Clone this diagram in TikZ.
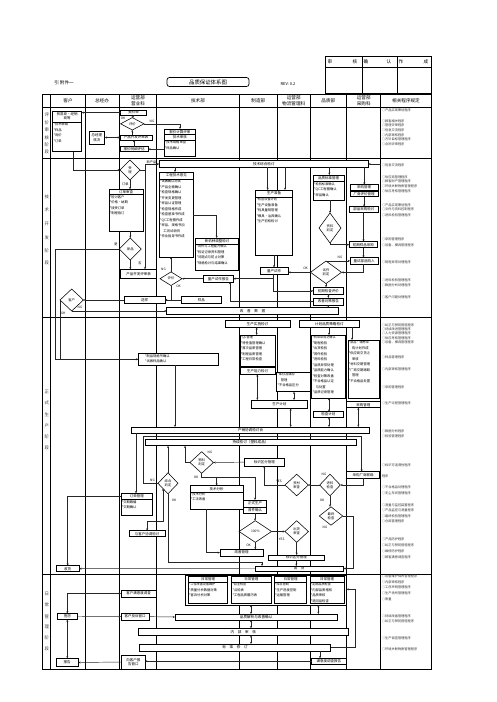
\documentclass[tikz,border=0pt]{standalone}
\usepackage{fontspec}
\setmainfont{Noto Sans CJK SC}
\usetikzlibrary{shapes.geometric,arrows.meta}
\tikzset{
  bx/.style={draw,fill=white,line width=0.55pt,inner sep=0pt,outer sep=0pt,align=center,font=\fontsize{3.5}{4.2}\selectfont},
  br/.style={draw,fill=white,line width=0.8pt,inner sep=0pt,outer sep=0pt,align=center,font=\fontsize{3.6}{4.2}\selectfont},
  dia/.style={diamond,draw,fill=white,line width=0.55pt,inner sep=0pt,outer sep=0pt,align=center,font=\fontsize{3.3}{3.9}\selectfont},
  tb/.style={inner sep=0pt,outer sep=0pt,align=left,anchor=north west,font=\fontsize{3.3}{5.5}\selectfont},
  lab/.style={inner sep=0pt,font=\fontsize{3.2}{3.8}\selectfont},
  ar/.style={line width=0.45pt,draw=black!85,-{Stealth[length=2.3pt,width=2pt]}},
  dar/.style={line width=0.45pt,draw=black!85,{Stealth[length=2.3pt,width=2pt]}-{Stealth[length=2.3pt,width=2pt]}},
  ln/.style={line width=0.45pt,draw=black!85},
  rp/.style={inner sep=0pt,anchor=west,font=\fontsize{3.2}{4}\selectfont,text=black!80},
  hd/.style={inner sep=0pt,align=center,font=\fontsize{4.6}{5.4}\selectfont},
  ph/.style={inner sep=0pt,font=\fontsize{4.4}{5}\selectfont,text=black!75},
}
\newcommand\mkB[6]{\node[bx,minimum width={(#4)-(#2)},minimum height={(#5)-(#3)}] (#1) at ({((#2)+(#4))/2},{((#3)+(#5))/2}) {#6};}
\newcommand\mkR[6]{\node[br,minimum width={(#4)-(#2)},minimum height={(#5)-(#3)}] (#1) at ({((#2)+(#4))/2},{((#3)+(#5))/2}) {#6};}
\newcommand\mkD[6]{\node[dia,minimum width={2*(#4)},minimum height={2*(#5)}] (#1) at (#2,#3) {#6};}
\newcommand\mkT[8]{\mkB{#1}{#2}{#3}{#4}{#5}{}
  \node[bx,draw=none,fill=none] at ({((#2)+(#4))/2},{((#3)+(#6))/2}) {#7};
  \draw[line width=0.4pt] (#2,#6) -- (#4,#6);
  \node[tb] at ({(#2)+0.8},{(#6)+0.9}) {#8};}
\newcommand\mkI[6]{\mkB{#1}{#2}{#3}{#4}{#5}{}
  \node[tb] at ({(#2)+0.8},{(#3)+0.9}) {#6};}
\begin{document}
\begin{tikzpicture}[x=1pt,y=-1pt]
\useasboundingbox (0,0) rectangle (496,702);
\fill[white] (0,0) rectangle (496,702);
% ---------- header
\node[inner sep=0pt,font=\fontsize{4.6}{5}\selectfont] at (64,83) {引\ 附件一};
\draw[line width=0.7pt,rounded corners=2.5pt] (167,77.5) rectangle (249,86.5);
\node[inner sep=0pt,font=\fontsize{5.4}{6}\selectfont] at (208,82) {品质保证体系图};
\node[inner sep=0pt,font=\fontsize{4}{5}\selectfont] at (288,84) {REV: 0.2};
\draw[line width=0.8pt] (325,56) rectangle (431,93);
\draw[line width=0.7pt] (325,67)--(431,67) (362,56)--(362,93) (397,56)--(397,93);
\foreach \xx/\cc in {330/审,355/核,366/确,389/认,401/作,426/成} \node[hd] at (\xx,61.5) {\cc};
% ---------- table
\draw[line width=0.9pt] (42.7,94.3) rectangle (431,669);
\foreach \xx in {50.7,85,119.3,156.7,239.3,277.3,310,346.7,380.7} \draw[line width=0.7pt] (\xx,94.3)--(\xx,669);
\foreach \yy in {107.3,158.3,317.3,574.3} \draw[line width=0.9pt] (42.7,\yy)--(431,\yy);
\node[hd] at (68,100.8) {客户};
\node[hd] at (102,100.8) {总经办};
\node[hd] at (138,100.8) {运营部\\营业科};
\node[hd] at (198,100.8) {技术部};
\node[hd] at (258.3,100.8) {制造部};
\node[hd] at (293.7,100.8) {运营部\\物流管理科};
\node[hd] at (328.3,100.8) {品质部};
\node[hd] at (363.7,100.8) {运营部\\采购科};
\node[hd] at (406,100.8) {相关程序规定};
% phase labels
\foreach \yy/\cc in {115/评,122.5/价,130/审,137.5/核,145/阶,152/段} \node[ph] at (46.7,\yy) {\cc};
\foreach \yy/\cc in {197/技,210/术,224/开,238/发,251/阶,263/段} \node[ph] at (46.7,\yy) {\cc};
\foreach \yy/\cc in {392.3/正,403.3/式,414.3/生,425.7/产,436.7/阶,447.7/段} \node[ph] at (46.7,\yy) {\cc};
\foreach \yy/\cc in {594/日,605/常,616.7/管,627.3/理,638.3/阶,649.3/段} \node[ph] at (46.7,\yy) {\cc};
% right column
\foreach \yy/\tt in {110/产品实现策划程序,121/顾客相关程序,125.5/管理评审程序,130/信息交流程序,135/内部审核程序,139.5/方针目标管理程序,144/合同评审程序,
165/信息交流程序,177/供应商管理程序,181.5/顾客财产管理程序,186/环境关联物质管理程序,191/供应考核管理程序,205/产品实现策划程序,209.5/文件与资料控制程序,215.5/进料检验管理程序,239/采购管理程序,245/设备、模具管理程序,262/制程异常处理程序,280/进料检验管理程序,285.5/数据分析处理程序,297/客户问题处理程序,
325/纠正与预防措施程序,329/持续改进管理程序,333.5/人力资源管理程序,338/供应考核管理程序,342/设备、模具管理程序,357/样品管理程序,369/内部审核管理程序,387/采购管理程序,403/生产过程管理程序,431/数据分析程序,436/检验管理程序,465/标识可追溯性程序,487/不合格品处理程序,493/无尘车间管理程序,505/测量与监控装置程序,510.5/产品监控与测量程序,516/最终检验管理程序,521/仓库管理程序,539/产品防护程序,545/纠正与预防措施程序,551/维修防护程序,557/顾客满意调查程序,
576/设备维护保养管理程序,582/内部审核程序,587.5/工序声明管理程序,593/生产场所管理程序,599/质量/环安记录控制程序,616/持续改善管理程序,621/纠正与预防措施程序,638/生产调查管理程序,649/环境关联物质管理程序}
  \node[rp] at (381.8,\yy) {○\tt};
\node[rp] at (381.8,476) {程序};
% ================= PHASE 1
\mkT{c1}{52.7}{111}{81.7}{151.7}{122}{贸易商・经销\\商等}{\fontsize{3.3}{6}\selectfont *技术联络\\*样品\\*询价\\*订单}
\mkB{qs}{120.7}{110}{146.7}{115.3}{报价单}
\mkD{pj}{132.3}{123.8}{11.7}{6.2}{评价}
\mkB{kf1}{120}{135}{152}{140}{产品开发评审表}
\mkB{zj}{89}{131}{104.7}{144.3}{总经理\\核决}
\mkB{mx}{120}{146.7}{148.3}{151.7}{报价明细评估}
\mkB{t1}{164}{129}{195.7}{156}{}
\node[bx,draw=none,fill=none] at (179.85,131.8) {报价计算评审};
\draw[line width=0.4pt] (164,134.5)--(195.7,134.5) (164,140)--(195.7,140);
\node[bx,draw=none,fill=none] at (179.85,137.3) {技术审核};
\node[tb] at (164.8,141) {\fontsize{3.3}{5}\selectfont *技术规格审查\\*样品确认};
\draw[ar] (qs.west) -- (c1.east |- qs.west);
\draw[ar] (pj.north) -- (qs.south);
\draw[ar] (pj.south |- kf1.north) -- (pj.south);
\draw[dar] (zj.east |- kf1.west) -- (kf1.west);
\draw[ar] (pj.east) -- (180,0 |- pj.east) -- (180,0 |- t1.north);
\node[lab] at (152,121.3) {NG};
\node[lab] at (123,118.8) {OK};
\draw[ar] (t1.west |- mx.east) -- (mx.east);
\draw[ar] (134,0 |- mx.north) -- (134,0 |- kf1.south);
% ================= PHASE 2
\mkR{bar1}{159.3}{160.7}{368.3}{167.3}{技术综合检讨}
\coordinate (fe1) at (380.7,164);
\draw[ar] (fe1) -- (bar1.east);
\mkD{sl}{130}{170}{10}{10}{受\\理}
\draw[ar] (73.3,0 |- c1.south) |- (sl.west);
\draw[ln] (sl.east) -- (145,170);
\draw[ar] (145,170) -- (145,0 |- bar1.west) -- (bar1.west);
\node[lab] at (151.5,161.8) {新产品};
\mkT{dd}{109}{189.3}{143.3}{231}{194.3}{订单审查}{\fontsize{3.3}{5.8}\selectfont *检讨客户\\*价格・纳期\\*接受订单\\*制程指订}
\draw[ar] (sl.south |- sl.south) -- (sl.south |- dd.north);
\node[lab,anchor=east] at (128.8,184) {订单};
\mkD{xp}{130.3}{249}{11}{11}{新品}
\draw[ar] (xp.north |- dd.south) -- (xp.north);
\mkB{kf2}{120.7}{269.3}{156.7}{278.3}{产品开发评审表}
\draw[ar] (145,170) -- (145,0 |- kf2.north);
\draw[ar] (xp.south) -- (xp.south |- kf2.north);
\node[lab] at (116,244.5) {是};
\node[lab] at (140,263.5) {否};
\mkI{t3}{138.3}{353.5}{218.3}{365}{}
\node[tb] at (145,354.6) {\fontsize{3.3}{5.2}\selectfont *制品规格书确认\\*试做样品确认};
\draw[ar] (xp.west) -- (55,0 |- xp.west) |- (t3.west);
\mkD{kd}{71.7}{300}{11.7}{11}{客户}
\draw[ln] (kd.west) |- (t3.west);
\node[lab] at (63.3,313.3) {OK};
\mkR{gs}{166.7}{307.7}{338.3}{314.3}{改\quad 善\quad 数\quad 据}
\draw[ar] (kd.south) |- (gs.west);
\node[lab] at (80,307.3) {NG};
\mkB{sy}{124.3}{296.7}{165}{303.3}{送样}
\mkB{yp}{181.7}{296.3}{221}{303.7}{样品}
\draw[ar] (yp.west) -- (sy.east);
\draw[ar] (sy.west) -- (kd.east);
\mkT{t2}{159.3}{172}{193.3}{257}{179}{工程技术意见}{\fontsize{3.2}{5.5}\selectfont *试做确认测试\\*产品全面确认\\*检查规格确认\\*开发变更管理\\*样品认证管理\\*检查规格作成\\*检查基准书作成\\*QC工程图作成\\*样品、规格书加\\\quad 工测试说明\\*作业指导书作成}
\draw[ar] (175,0 |- bar1.south) -- (175,0 |- t2.north);
\mkT{xj}{195.7}{238}{238.3}{270}{244.3}{新机种调整检讨}{\fontsize{3.2}{5.6}\selectfont *试作与工程能力确认\\*检证记录资料管理\\*问题点与防止对策\\*规格检讨与结果确认}
\draw[ar] (t2.east |- 0,215) -- (216.7,215) -- (216.7,0 |- xj.north);
\mkB{lb}{203.3}{275.4}{233.3}{282}{量产试作报告}
\mkD{pj2}{171}{278.7}{11}{6.8}{评价}
\draw[ar] (lb.west) -- (pj2.east);
\draw[ar] (pj2.north) -- (pj2.north |- t2.south);
\draw[ar] (pj2.south) |- (sy.east);
\node[lab] at (163.5,269) {NG};
\node[lab] at (178.5,286.5) {OK};
\mkT{sc}{255.7}{190}{292.3}{255}{197}{生产准备}{\fontsize{3.2}{5.6}\selectfont *检查设备计划\\*生产设备准备\\*检具量规管理\\*模具・治具确认\\*生产初检检讨}
\draw[ar] (267.7,0 |- bar1.south) -- (267.7,0 |- sc.north);
\draw[ar] (285,0 |- bar1.south) -- (285,0 |- sc.north);
\mkB{ls}{260}{267.5}{288.3}{274}{量产试作}
\draw[ar] (sc.south) -- (sc.south |- ls.north);
\draw[ar] (273.3,0 |- ls.south) |- (lb.east);
\mkB{cq}{313.3}{287.3}{343.3}{294.3}{初期检查评价}
\mkB{gd}{313.3}{298}{343.3}{305}{改善对策报告}
\draw[ar] (273.3,0 |- ls.south) |- (cq.west);
\mkT{q1}{313.3}{175}{344}{200}{181.5}{品质标准管理}{\fontsize{3.2}{5.5}\selectfont *检验标准确认\\*QC工程图确认\\*样品确认}
\draw[ar] (329.3,0 |- bar1.south) -- (329.3,0 |- q1.north);
\mkD{zl}{330}{228}{11}{15}{资料\\判定}
\draw[ar] (zl.north |- q1.south) -- (zl.north);
\mkB{cg}{350}{184.7}{378.3}{190}{采购管理}
\mkB{cs}{350}{191.3}{378.3}{196.7}{厂商评价管理}
\draw[ar] (364.3,0 |- bar1.south) -- (364.3,0 |- cg.north);
\mkB{bp}{349.3}{206.7}{378.3}{212.3}{部品采购检讨}
\draw[ar] (cs.south) -- (cs.south |- bp.north);
\mkB{cy}{349.3}{241.7}{377.3}{247.7}{初期样品采购}
\draw[ar] (363.5,0 |- bp.south) -- (363.5,0 |- cy.north);
\draw[ar] (zl.south) |- (cy.west);
\mkB{lg}{350}{257.7}{378.3}{264}{量试部品购入}
\draw[ar] (363.5,0 |- cy.south) -- (363.5,0 |- lg.north);
\mkD{sz}{326}{272.3}{15.5}{11.3}{试作\\判定}
\draw[ar] (363.5,0 |- lg.south) |- (sz.east);
\draw[ar] (sz.north) |- (lg.west);
\node[lab] at (340,257.3) {NG};
\draw[ar] (sz.west) -- (ls.east |- sz.west);
\node[lab] at (305.5,268.3) {OK};
\draw[ar] (sz.south) -- (sz.south |- cq.north);
\draw[ar] (cq.south) -- (cq.south |- gd.north);
\draw[ar] (gd.west) -| (230,0 |- lb.south);
\draw[ar] (gd.south) -- (gd.south |- gs.north);
% ================= PHASE 3
\mkR{b31}{225}{320.7}{290}{327.3}{生产实施检讨}
\mkR{b32}{299.3}{320.7}{359.3}{327.3}{计划品质策略检讨}
\mkI{ss}{240}{335}{275}{366.7}{\fontsize{3.2}{6}\selectfont *QC管理\\*特性值管理确认\\*首次品质管理\\*制程品质管理\\*工程日常检查}
\draw[dar] (256.7,0 |- b31.south) -- (256.7,0 |- ss.north);
\mkB{nl}{240}{367.7}{275}{374.3}{生产能力检讨}
\mkI{wl}{276.7}{372.3}{310}{391.7}{\fontsize{3.2}{5.8}\selectfont *库存品储存\\\quad 管理\\*不合格品区分}
\mkB{jh}{251}{400}{307.7}{408.3}{生产计划}
\draw[dar] (257.3,0 |- nl.south) -- (257.3,0 |- jh.north);
\draw[dar] (294,0 |- wl.south) -- (294,0 |- jh.north);
\mkR{cx}{131.7}{427}{369.3}{433}{产销协调检讨会}
\draw[dar] (290.7,0 |- jh.south) -- (290.7,0 |- cx.north);
\mkI{q3}{311.7}{335}{345}{398}{\fontsize{3.1}{5.3}\selectfont *特采采用之确认\\*制程检验\\*出货检验\\*首件检验\\*进料检验\\*品质异常处理\\*品质能力确认\\*检查对策改善\\*不合格品认定\\\quad 与处置\\*品质记录管理}
\draw[ar] (329,0 |- b32.south) -- (329,0 |- q3.north);
\mkB{jc}{313.3}{411.7}{343.3}{417.3}{检查计划}
\draw[dar] (329,0 |- q3.south) -- (329,0 |- jc.north);
\draw[dar] (329,0 |- jc.south) -- (329,0 |- cx.north);
\mkI{p3}{348}{340}{379}{398}{\fontsize{3.1}{5.4}\selectfont *部品・辅材采\\\quad 购计划作成\\*供应商交货之\\\quad 审核\\*材料交期管理\\*厂商交期跟踪\\\quad 管理\\*不合格品处置}
\draw[ar] (352,0 |- b32.south) -- (352,0 |- p3.north);
\mkB{cg3}{346.7}{401.7}{380}{407.7}{采购管理}
\draw[dar] (358.3,0 |- cg3.south) -- (358.3,0 |- cx.north);
\draw[ar] (175,0 |- t3.south) -- (175,0 |- cx.north);
\mkR{cj}{145}{439}{356}{445.7}{持续检讨（塑料成品）}
\mkT{dg}{121}{493.3}{152.7}{515}{499.3}{订单管理}{\fontsize{3.3}{5.5}\selectfont *交期跟催\\*交期确认}
\draw[ar] (136,0 |- cx.south) -- (136,0 |- dg.north);
\mkB{sh}{56}{565.7}{79.3}{571.7}{收货}
\draw[ar] (dg.west |- 0,496.7) -| (sh.north);
\mkD{zh}{168}{483.3}{10}{10.5}{综合\\判定}
\mkB{cl}{346.7}{471.7}{379.3}{478.3}{采购厂商联络}
\draw[ar] (zh.west) -- (143.3,0 |- zh.west) -- (143.3,436.2) -- (361.7,436.2) -- (361.7,0 |- cl.north);
\node[lab] at (152.5,480.5) {NG};
\draw[ar] (zh.north) -- (zh.north |- cj.south);
\mkB{xt}{129.3}{530.7}{165}{536.7}{与客户协调检讨}
\draw[dar] (zh.south west) -- (163,521.7) -| (xt.north);
\mkD{wp}{201.7}{462.5}{11.7}{10.8}{物料\\判定}
\mkB{bs1}{244.3}{458.3}{284.3}{466}{标识区分管理}
\draw[ar] (bs1.west) -- (wp.east);
\draw[ar] (wp.west) -| (185,0 |- cj.south);
\node[lab] at (210,452.5) {NG};
\mkT{jf}{190}{485.7}{243.3}{509}{491.7}{技术分析}{\fontsize{3.3}{5.5}\selectfont *技术分析\\*工法改善}
\mkB{zs}{243.3}{500}{266.7}{513.3}{}
\node[bx,draw=none,fill=none] at (255,503.3) {正式生产};
\draw[line width=0.4pt] (243.3,506.7)--(266.7,506.7);
\node[bx,draw=none,fill=none] at (255,510) {首件确认};
\draw[ln] (wp.south) |- (255,477);
\draw[ar] (255,477) -- (255,0 |- zs.north);
\draw[ar] (216.7,477) -- (216.7,0 |- jf.north);
\node[lab] at (196,477.5) {OK};
\mkD{zc}{296.7}{485}{11.7}{10.8}{资材\\审查}
\draw[ar] (zc.west) -| (264.3,0 |- bs1.south);
\node[lab] at (279,481.8) {YES};
\mkD{jl}{330}{485}{10.3}{10.8}{进料\\检查}
\draw[ar] (jl.west) -- (zc.east);
\draw[ar] (363,0 |- cl.south) |- (jl.east);
\node[lab] at (324,474.5) {NG};
\mkD{zj2}{331}{516}{11.7}{9.2}{最终\\检查}
\draw[ar] (jl.south) -- (jl.south |- zj2.north);
\node[lab] at (322,500) {OK};
\mkD{jy}{255.3}{531.5}{16.3}{10.8}{100\%}
\draw[ar] (zs.south) -- (zs.south |- jy.north);
\mkB{gm}{220}{549.3}{263.3}{556}{改善管理}
\draw[ar] (jy.south) -- (jy.south |- gm.north);
\node[lab] at (248.5,545) {OK};
\draw[ar] (206.7,0 |- jf.south) |- (gm.west);
\mkD{ck}{296.7}{531.5}{11.7}{10.8}{出货\\审查}
\draw[ar] (jy.east) -- (ck.west);
\node[lab] at (281.7,539.5) {YES};
\mkB{bs2}{268.3}{555}{324.3}{560.3}{标识区分管理}
\draw[ar] (ck.south) -- (ck.south |- bs2.north);
\mkR{ch}{255}{566}{343.3}{571}{出\quad 货}
\draw[ar] (bs2.south) -- (bs2.south |- ch.north);
\draw[ar] (zj2.east) -- (353.3,0 |- zj2.east) |- (ch.east);
\node[lab] at (325,527) {NG};
\draw[ar] (zh.south) -- (168,562.3) -| (262,0 |- ch.north);
\node[lab] at (174,500) {OK};
\draw[ar] (ch.west) -- (sh.east);
% ================= PHASE 4
\mkB{rc}{185}{575.5}{346.7}{605}{}
\mkT{r1}{188.3}{576.7}{227.7}{603.3}{582.3}{日常管理}{\fontsize{3.1}{5.5}\selectfont *工位改善设备维护\\*质量分析数据对策\\*客诉分析对策}
\mkT{r2}{231.7}{576.7}{271}{603.3}{582.3}{日常管理}{\fontsize{3.1}{5.5}\selectfont *自主检查\\*点检表\\*工程品质履历表}
\mkT{r3}{274.3}{576.7}{306.7}{603.3}{582.3}{日常管理}{\fontsize{3.1}{5.5}\selectfont *库存管制\\*生产进度控制\\*运输管理}
\mkT{r4}{310}{576.7}{344}{603.3}{582.3}{日常管理}{\fontsize{3.1}{5}\selectfont *定期品质检查\\*内部品质稽核\\*品质审核\\*退回品检查}
\mkR{f1}{175}{614}{337.3}{620}{品质解析与改善确认}
\mkR{f2}{138.3}{628.3}{348.3}{635.3}{内\quad 部\quad 审\quad 核}
\mkR{f3}{139.3}{644}{330.7}{651}{标\quad 准\quad 修\quad 订}
\mkB{my}{311.7}{658.3}{346}{664}{满意度调查报告}
\draw[dar] (251,0 |- rc.south) -- (251,0 |- f1.north);
\draw[dar] (318.3,0 |- rc.south) -- (318.3,0 |- f1.north);
\draw[dar] (251,0 |- f1.south) -- (251,0 |- f2.north);
\draw[dar] (251,0 |- f2.south) -- (251,0 |- f3.north);
\draw[ar] (320,0 |- f3.south) -- (320,0 |- my.north);
\draw[ar] (f3.east) -- (355,0 |- f3.east) -- (355,589.3) -- (rc.east |- 0,589.3);
\mkB{bj}{57.3}{613.5}{77.3}{619.5}{抱怨}
\mkB{bg}{56}{658.3}{78.3}{666.7}{报告}
\mkB{my1}{121}{590}{156}{597.3}{客户满意度调查}
\mkB{ts}{121}{613.3}{149.3}{620}{客户投诉窗口}
\mkB{xb}{121.7}{655}{145}{669}{向客户报\\告窗口}
\draw[dar] (bj.north) |- (my1.west);
\draw[ar] (bj.east) -- (ts.west);
\draw[ar] (ts.east) -- (f1.west);
\draw[dar] (bj.south) -- (bj.south |- bg.north);
\draw[ar] (xb.west) -- (bg.east);
\draw[ar] (my.west) -- (xb.east |- my.west);
\end{tikzpicture}
\end{document}
